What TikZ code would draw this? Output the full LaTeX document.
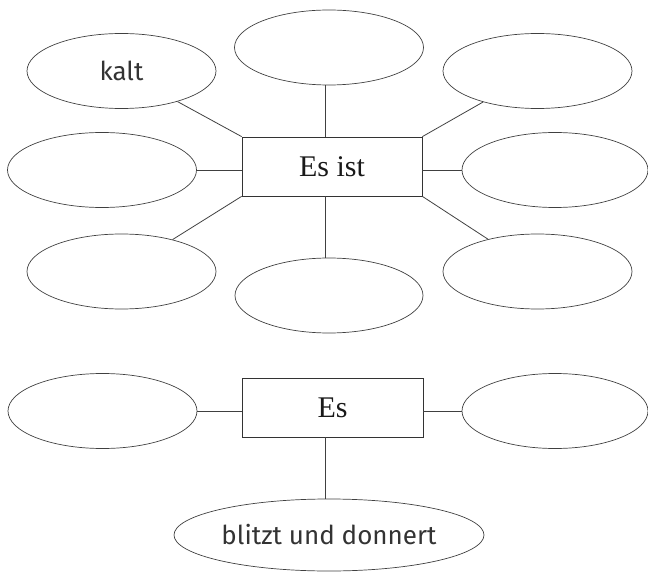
\documentclass[tikz,border=0pt]{standalone}
\usepackage{fontspec}
\setmainfont{Liberation Serif}
\newfontfamily\hand{Fira Sans}
\usetikzlibrary{shapes.geometric}
\begin{document}
\begin{tikzpicture}[x=1pt,y=-1pt,
  oval/.style={ellipse, draw=black!75, line width=0.7pt, inner sep=0pt, minimum width=189pt, minimum height=75pt},
  box/.style={rectangle, draw=black!80, line width=0.8pt, minimum width=180pt, minimum height=59pt, inner sep=0pt, font=\fontsize{30}{36}\selectfont, text=black!90},
  link/.style={draw=black!75, line width=0.8pt},
  hw/.style={font=\hand\fontsize{26}{30}\selectfont, text=black!80}]
\useasboundingbox (0,0) rectangle (648,572);
% top group
\node[box] (b1) at (332,166.5) {Es ist};
\node[oval] (t) at (329,47.5) {};
\node[oval, hw] (tl) at (121.5,71) {kalt};
\node[oval] (tr) at (537.5,71) {};
\node[oval] (l) at (102,170) {};
\node[oval, minimum width=186pt] (r) at (555,170) {};
\node[oval] (bl) at (121.5,271.5) {};
\node[oval, minimum width=188pt] (b) at (329,295.5) {};
\node[oval] (br) at (537.5,271.5) {};
\draw[link] ([xshift=-4pt]t.south) -- ([xshift=-4pt]t.south |- b1.north);
\draw[link] ([xshift=-4pt]b.north) -- ([xshift=-4pt]b.north |- b1.south);
\draw[link] (tl) -- (b1.north west);
\draw[link] (tr) -- (b1.north east);
\draw[link] (l.east) -- (l.east -| b1.west);
\draw[link] (r.west) -- (r.west -| b1.east);
\draw[link] (bl) -- (b1.south west);
\draw[link] (br) -- (b1.south east);
% bottom group
\node[box, minimum width=181pt] (b2) at (332.5,407.5) {Es};
\node[oval] (l2) at (102.5,411) {};
\node[oval, minimum width=186pt] (r2) at (555,411) {};
\node[oval, hw, minimum width=310pt, minimum height=72pt] (d) at (329,535) {blitzt und donnert};
\draw[link] (l2.east) -- (l2.east -| b2.west);
\draw[link] (r2.west) -- (r2.west -| b2.east);
\draw[link] ([xshift=-4pt]d.north) -- ([xshift=-4pt]d.north |- b2.south);
\end{tikzpicture}
\end{document}
